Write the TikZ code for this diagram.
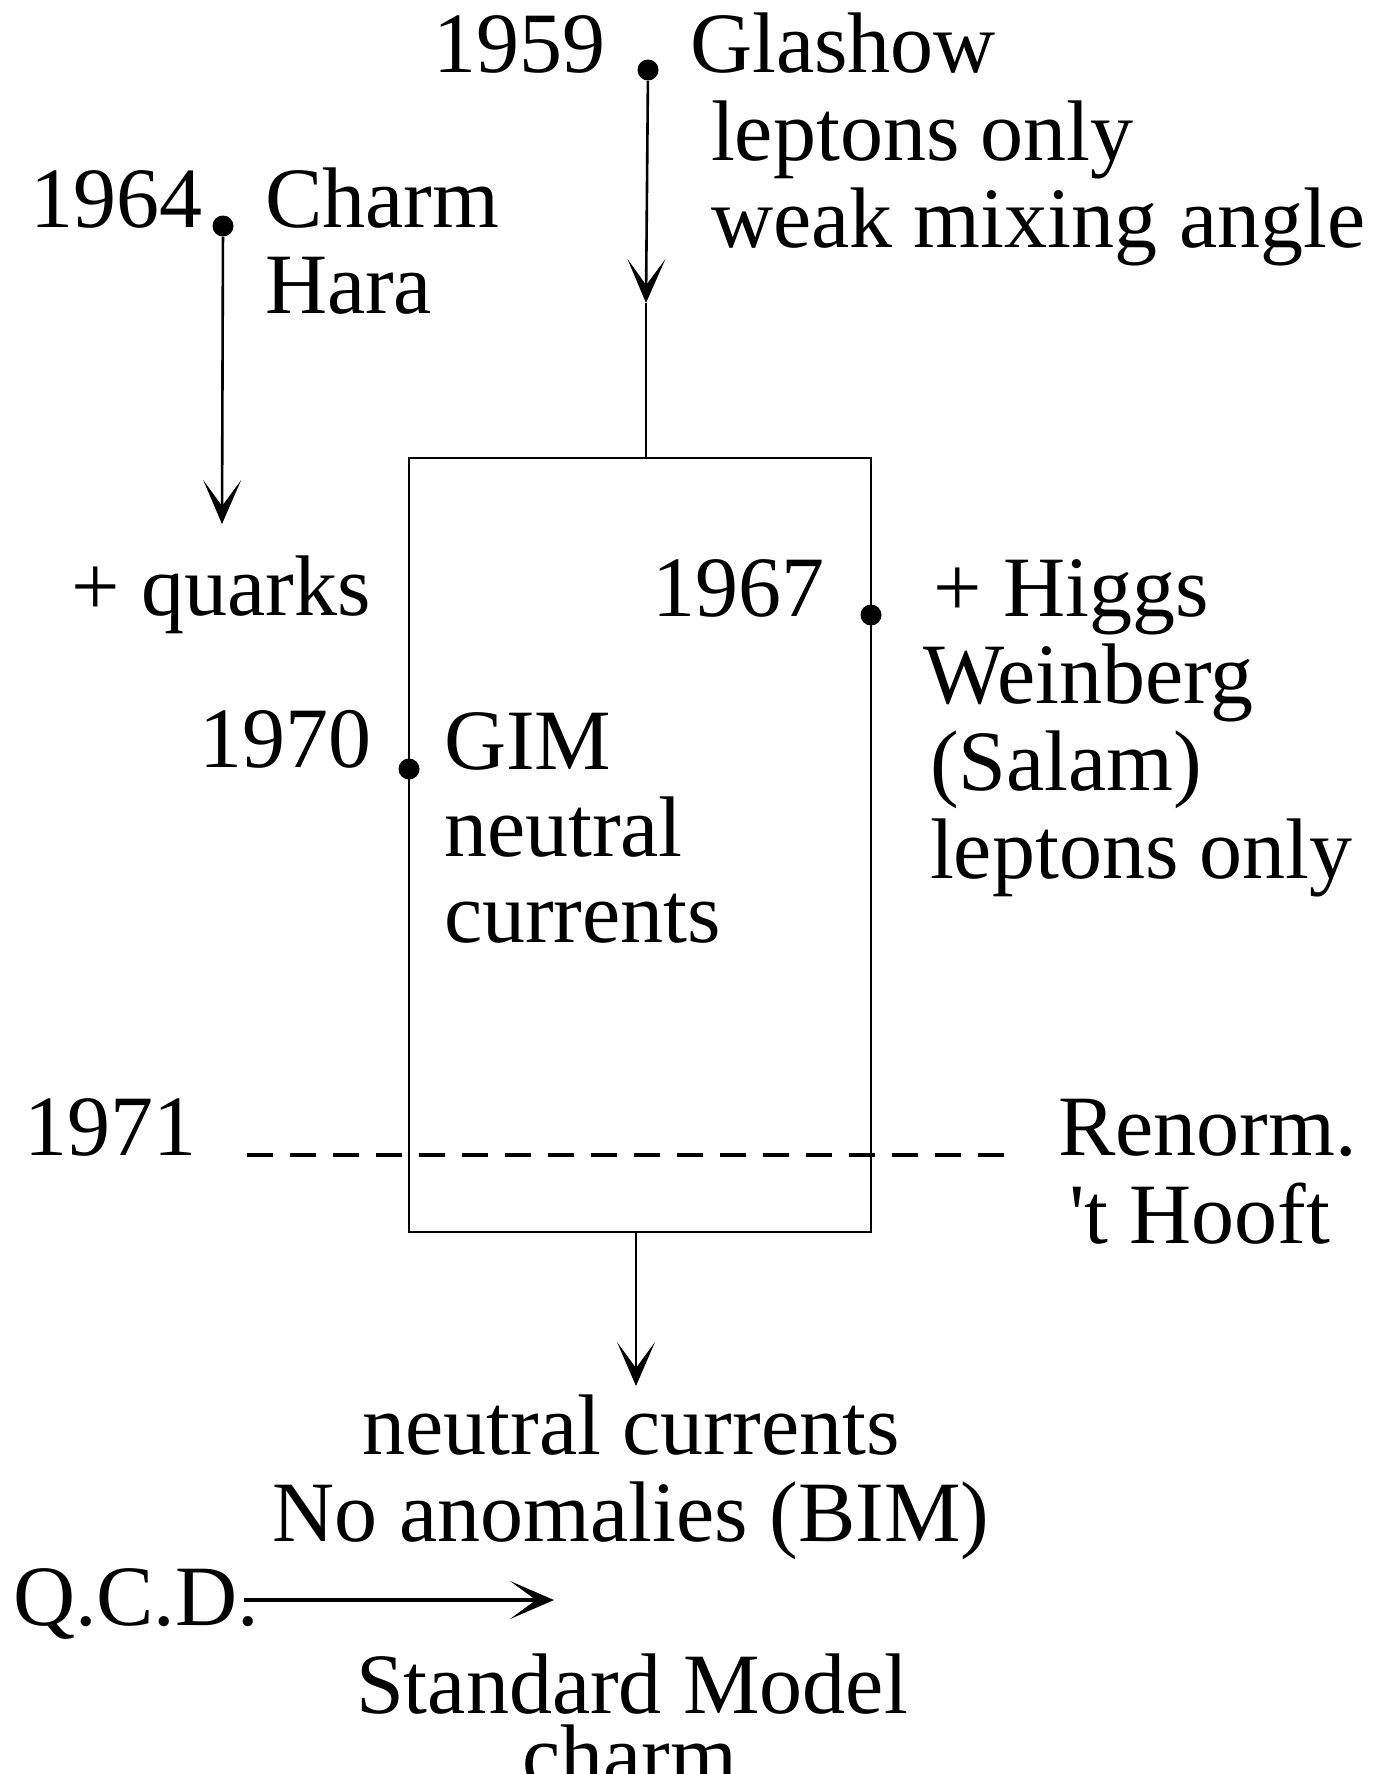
\documentclass[tikz,border=0pt]{standalone}
\usepackage{fontspec}
\setmainfont{Liberation Serif}[Ligatures=TeXOff]
\usetikzlibrary{arrows.meta}
\begin{document}
\begin{tikzpicture}[x=0.5pt,y=-0.5pt,
  txt/.style={font=\fontsize{43pt}{43pt}\selectfont, inner sep=0pt, outer sep=0pt},
  lt/.style={txt, anchor=base west},
  rt/.style={txt, anchor=base east},
  ct/.style={txt, anchor=base},
  dotn/.style={circle, fill, inner sep=0pt, minimum size=10.5pt},
  ln/.style={line width=1.3pt},
  arr/.style={ln, -{Stealth[length=22pt,width=19pt,inset=13pt]}},
  boxst/.style={draw, ln, minimum width=231pt, minimum height=387pt, inner sep=0pt},
  dashst/.style={line width=1.8pt, dash pattern=on 13pt off 8.5pt}
]
\useasboundingbox (0,0) rectangle (1383,1774);

% 1959
\node[rt] (y1959) at (605,72) {1959};
\node[dotn] (d1959) at (648,70) {};
\node[lt] (glashow) at (690,72) {Glashow};
\node[lt] (lep1) at (711,160) {leptons only};
\node[lt] (wma) at (711,247) {weak mixing angle};
\coordinate (t1959) at (646,303);

% 1964
\node[rt] (y1964) at (203,227) {1964};
\node[dotn] (d1964) at (223,226) {};
\node[lt] (charm1) at (265,227) {Charm};
\node[lt] (hara) at (265,313) {Hara};
\coordinate (t1964) at (222,524);
\node[rt] (quarks) at (371,615) {+ quarks};

% box
\node[boxst] (box) at (640,845) {};

% 1967
\node[rt] (y1967) at (824,616) {1967};
\node[dotn] (d1967) at (871,615) {};
\node[lt] (higgs) at (933,616) {+ Higgs};
\node[lt] (weinberg) at (923,703) {Weinberg};
\node[lt] (salam) at (930,790) {(Salam)};
\node[lt] (lep2) at (930,878) {leptons only};

% 1970
\node[rt] (y1970) at (371,767) {1970};
\node[dotn] (d1970) at (409,769) {};
\node[lt] (gim) at (444,769) {GIM};
\node[lt] (neutral) at (444,856) {neutral};
\node[lt] (currents) at (444,942) {currents};

% 1971
\node[lt] (y1971) at (25,1155) {1971};
\coordinate (dl) at (247,1155);
\coordinate (dr) at (1017,1155);
\node[lt] (renorm) at (1058,1155) {Renorm.};
\node[lt] (hooft) at (1069,1243) {'t Hooft};

% bottom
\coordinate (tbot) at (636,1386);
\node[ct] (nc) at (631,1454) {neutral currents};
\node[ct] (noanom) at (631,1541) {No anomalies (BIM)};
\node[lt] (qcd) at (13,1625) {Q.C.D.};
\coordinate (qs) at (244,1600);
\coordinate (qe) at (554,1600);
\node[ct] (sm) at (632,1713) {Standard Model};
\node[ct] (charm2) at (630,1784) {charm};

% connectors
\draw[arr] (d1959) -- (t1959);
\draw[ln] (t1959) -- (t1959 |- box.north);
\draw[arr] (d1964) -- (t1964);
\draw[arr] (box.south -| tbot) -- (tbot);
\draw[arr, line width=1.7pt] (qs) -- (qe);
\draw[dashst] (dl) -- (dr);
\end{tikzpicture}
\end{document}
